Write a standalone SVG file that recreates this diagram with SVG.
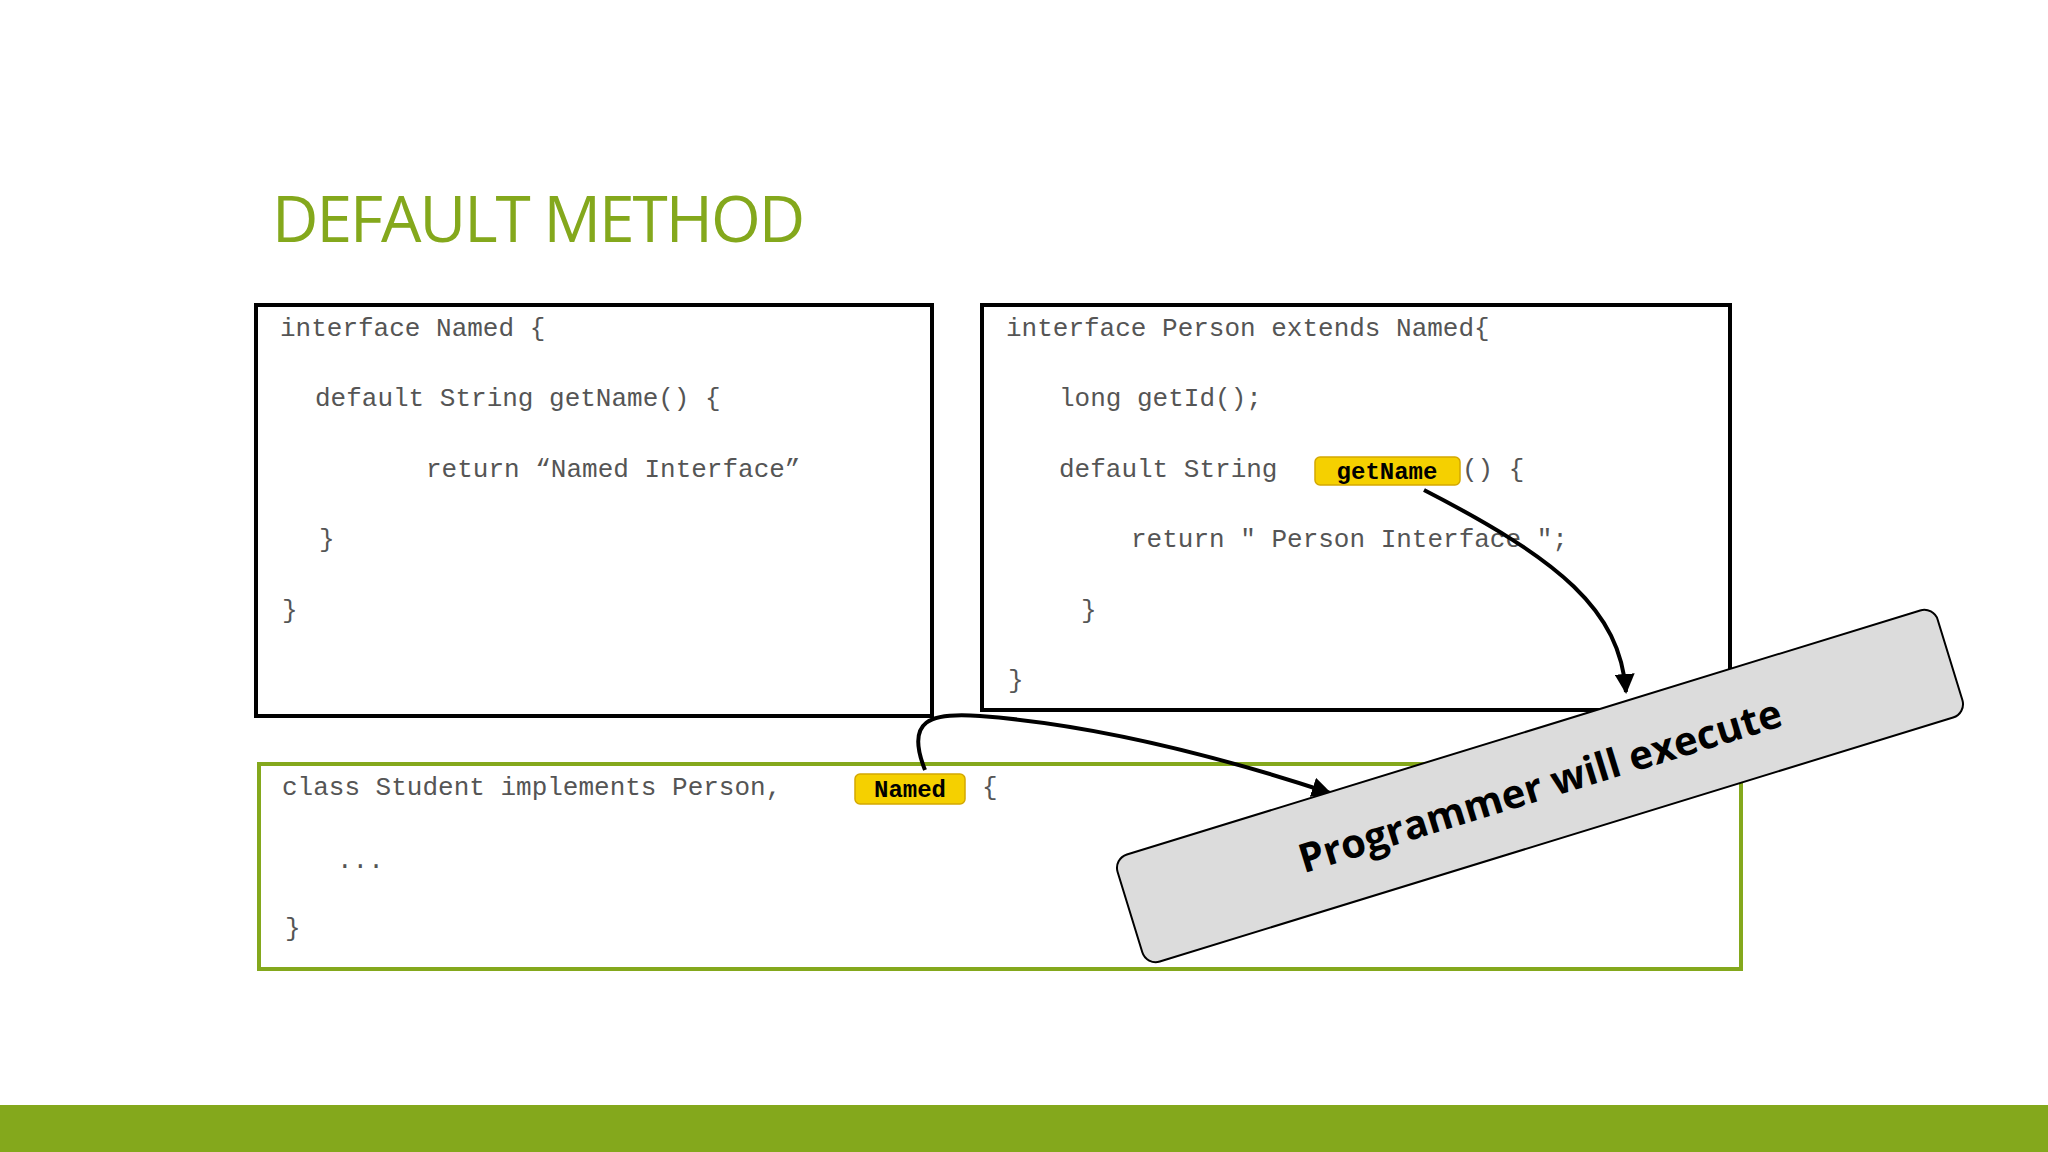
<svg xmlns="http://www.w3.org/2000/svg" width="2048" height="1152" viewBox="0 0 2048 1152">
<style>
.code{font-family:"Liberation Mono",monospace;font-size:26px;fill:#555}
.box{fill:#fff;stroke:#000;stroke-width:4}
.badge{fill:#f5d000;stroke:#d4a800;stroke-width:1.5}
.bt{font-family:"Liberation Mono",monospace;font-size:24px;font-weight:bold;fill:#000}
.conn{fill:none;stroke:#000;stroke-width:4}
</style>
<defs>
<marker id="ah" viewBox="0 0 10 10" refX="9" refY="5" markerWidth="5" markerHeight="5" orient="auto"><path d="M0,0 L10,5 L0,10 z" fill="#000"/></marker>
</defs>
<rect width="2048" height="1152" fill="#fff"/>
<text x="272" y="242" font-family="Open Sans, sans-serif" font-size="64" fill="#84A81C" letter-spacing="-2">DEFAULT METHOD</text>
<g id="named">
<rect class="box" x="256" y="305" width="676" height="411"/>
<text class="code" x="280" y="336" xml:space="preserve">interface Named {</text>
<text class="code" x="315" y="406">default String getName() {</text>
<text class="code" x="426" y="477">return “Named Interface”</text>
<text class="code" x="319" y="547">}</text>
<text class="code" x="282" y="618">}</text>
</g>
<g id="person">
<rect class="box" x="982" y="305" width="748" height="405"/>
<text class="code" x="1006" y="336">interface Person extends Named{</text>
<text class="code" x="1059" y="406">long getId();</text>
<text class="code" x="1059" y="477">default String</text>
<rect class="badge" x="1315" y="457" width="145" height="28" rx="5"/>
<text class="bt" x="1387" y="479" text-anchor="middle">getName</text>
<text class="code" x="1462" y="477">() {</text>
<text class="code" x="1131" y="547">return " Person Interface ";</text>
<text class="code" x="1081" y="618">}</text>
<text class="code" x="1008" y="688">}</text>
</g>
<g id="student">
<rect x="259" y="764" width="1482" height="205" fill="#fff" stroke="#84A81C" stroke-width="4"/>
<text class="code" x="282" y="795">class Student implements Person,</text>
<rect class="badge" x="855" y="774" width="110" height="30" rx="5"/>
<text class="bt" x="910" y="797" text-anchor="middle">Named</text>
<text class="code" x="982" y="795">{</text>
<text class="code" x="337" y="868">...</text>
<text class="code" x="285" y="936">}</text>
</g>
<g id="connectors">
<path class="conn" d="M1424,490 C1560,560 1620,610 1626,692" marker-end="url(#ah)"/>
<path class="conn" d="M925,770 C905,720 930,712 980,716 C1100,725 1230,760 1330,793" marker-end="url(#ah)"/>
</g>
<g id="banner" transform="translate(1540,786) rotate(-17.1)">
<rect x="-429" y="-56" width="858" height="112" rx="14" fill="#dcdcdc" stroke="#000" stroke-width="2"/>
<text x="0" y="14" text-anchor="middle" font-family="Open Sans, sans-serif" font-weight="bold" font-size="40" fill="#000">Programmer will execute</text>
</g>
<rect x="0" y="1105" width="2048" height="47" fill="#84A81C"/>
</svg>
